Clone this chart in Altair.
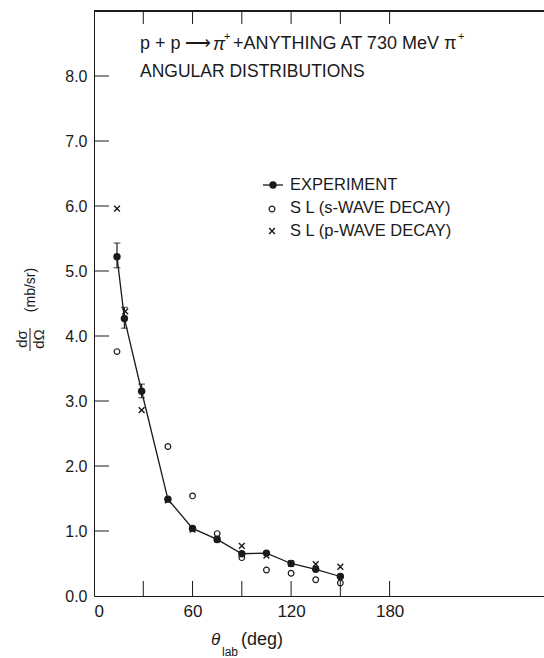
import altair as alt
import pandas as pd

# ---- data ----
exp_theta = [14, 18.5, 29, 45, 60, 75, 90, 105, 120, 135, 150]
exp_val = [5.22, 4.27, 3.15, 1.49, 1.04, 0.87, 0.65, 0.66, 0.50, 0.41, 0.30]
err_theta = [14, 18.5, 29]
err_lo = [5.05, 4.12, 3.05]
err_hi = [5.43, 4.44, 3.26]
s_theta = [14, 45, 60, 75, 90, 105, 120, 135, 150]
s_val = [3.76, 2.30, 1.54, 0.96, 0.59, 0.40, 0.35, 0.25, 0.20]
p_theta = [14, 19, 29, 45, 60, 75, 90, 105, 120, 135, 150]
p_val = [5.96, 4.38, 2.86, 1.47, 1.02, 0.87, 0.77, 0.62, 0.50, 0.49, 0.45]
x_tick_vals = [30, 60, 90, 120, 150, 180]
x_label_vals = [0, 60, 120, 180]
y_tick_vals = [1, 2, 3, 4, 5, 6, 7, 8]
y_label_vals = [0, 1, 2, 3, 4, 5, 6, 7, 8]
legend_labels = ["EXPERIMENT", "S L (s-WAVE DECAY)", "S L (p-WAVE DECAY)"]
title_parts = ["p + p", "⟶", "π", "+", "+ANYTHING AT 730 MeV π", "+"]
title_line2 = "ANGULAR DISTRIBUTIONS"

W, H = 450, 585
FONT = "Liberation Sans"
INK = "#1a1a1a"

exp_df = pd.DataFrame({"theta": exp_theta, "val": exp_val})
err_df = pd.DataFrame({"theta": err_theta, "lo": err_lo, "hi": err_hi})
s_df = pd.DataFrame({"theta": s_theta, "val": s_val})
p_df = pd.DataFrame({"theta": p_theta, "val": p_val})
xt_df = pd.DataFrame({"t": x_tick_vals})
yt_df = pd.DataFrame({"t": y_tick_vals})

xs = alt.Scale(domain=[0, 274], nice=False, zero=False)
ys = alt.Scale(domain=[0, 9], nice=False, zero=False)

X = alt.X("theta:Q", scale=xs,
          axis=alt.Axis(values=x_label_vals, format="d", title=None, ticks=False,
                        grid=False, labelPadding=7, domainColor=INK,
                        labelFont=FONT, labelFontSize=17, labelColor=INK))
Y = alt.Y("val:Q", scale=ys,
          axis=alt.Axis(values=y_label_vals, format=".1f", title=None, ticks=False,
                        grid=False, labelPadding=7, domainColor=INK,
                        labelFont=FONT, labelFontSize=16, labelColor=INK))

base_line = alt.Chart(exp_df).mark_line(color=INK, strokeWidth=1.3).encode(x=X, y=Y)

err_rule = alt.Chart(err_df).mark_rule(color=INK, strokeWidth=1.2).encode(
    x=alt.X("theta:Q", scale=xs), y=alt.Y("lo:Q", scale=ys), y2="hi:Q")
cap_hi = alt.Chart(err_df).mark_point(shape="stroke", size=45, color=INK, strokeWidth=1.2).encode(
    x=alt.X("theta:Q", scale=xs), y=alt.Y("hi:Q", scale=ys))
cap_lo = alt.Chart(err_df).mark_point(shape="stroke", size=45, color=INK, strokeWidth=1.2).encode(
    x=alt.X("theta:Q", scale=xs), y=alt.Y("lo:Q", scale=ys))

s_pts = alt.Chart(s_df).mark_point(shape="circle", size=32, filled=False, color=INK,
                                    strokeWidth=1.2, opacity=1).encode(
    x=alt.X("theta:Q", scale=xs), y=alt.Y("val:Q", scale=ys))
CROSS = "M-1,-1L1,1M-1,1L1,-1"
p_pts = alt.Chart(p_df).mark_point(shape=CROSS, size=34, filled=False, color=INK,
                                    strokeWidth=1.4, opacity=1).encode(
    x=alt.X("theta:Q", scale=xs), y=alt.Y("val:Q", scale=ys))
exp_pts = alt.Chart(exp_df).mark_point(shape="circle", size=55, filled=True, color=INK,
                                        opacity=1).encode(
    x=alt.X("theta:Q", scale=xs), y=alt.Y("val:Q", scale=ys))

# inward ticks
xt_bottom = alt.Chart(xt_df).mark_rule(color=INK, strokeWidth=1).encode(
    x=alt.X("t:Q", scale=xs), y=alt.value(H), y2=alt.value(H - 15))
xt_top = alt.Chart(xt_df).mark_rule(color=INK, strokeWidth=1).encode(
    x=alt.X("t:Q", scale=xs), y=alt.value(0), y2=alt.value(13))
yt_left = alt.Chart(yt_df).mark_rule(color=INK, strokeWidth=1).encode(
    y=alt.Y("t:Q", scale=ys), x=alt.value(0), x2=alt.value(15))
top_border = alt.Chart(xt_df).mark_rule(color=INK, strokeWidth=1).encode(
    y=alt.value(0), x=alt.value(0), x2=alt.value(W))

one = pd.DataFrame({"a": [0]})


def txt(s, x, y, size=15, align="left", angle=0, style="normal"):
    kw = dict(text=s, font=FONT, fontSize=size, align=align, baseline="middle",
              color=INK, fontStyle=style)
    if angle:
        kw["angle"] = angle
    return alt.Chart(one).mark_text(**kw).encode(x=alt.value(x), y=alt.value(y))


annots = [
    # title line 1 in pieces (for superscripts)
    txt(title_parts[0], 46, 33, size=18),
    txt(title_parts[1], 91, 33, size=18),
    txt(title_parts[2], 119, 34, size=18, style="italic"),
    txt(title_parts[3], 130, 26, size=11),
    txt(title_parts[4], 139, 33, size=18),
    txt(title_parts[5], 364, 26, size=11),
    txt(title_line2, 46, 61, size=17.5),
    # legend
    txt(legend_labels[0], 196, 174, size=16.5),
    txt(legend_labels[1], 196, 197, size=16.5),
    txt(legend_labels[2], 196, 220, size=16.5),
    # x title
    txt("θ", 121.5, 629, size=17, align="center", style="italic"),
    txt("(deg)", 168, 629, size=18, align="center"),
    txt("lab", 136, 641, size=12, align="center"),
    # y title (fraction)
    txt("dσ", -72, 328, size=15, align="center", angle=270),
    txt("dΩ", -55, 328, size=15, align="center", angle=270),
    txt("(mb/sr)", -63, 279, size=14, align="center", angle=270),
]

frac_bar = alt.Chart(one).mark_rule(color=INK, strokeWidth=1).encode(
    x=alt.value(-64), y=alt.value(317), y2=alt.value(340))

leg_line = alt.Chart(one).mark_rule(color=INK, strokeWidth=1.3).encode(
    x=alt.value(169), x2=alt.value(189), y=alt.value(174))
leg_exp = alt.Chart(one).mark_point(shape="circle", size=55, filled=True, color=INK,
                                     opacity=1).encode(x=alt.value(179), y=alt.value(174))
leg_s = alt.Chart(one).mark_point(shape="circle", size=32, filled=False, color=INK,
                                   strokeWidth=1.2, opacity=1).encode(x=alt.value(178), y=alt.value(198))
leg_p = alt.Chart(one).mark_point(shape=CROSS, size=34, filled=False, color=INK,
                                   strokeWidth=1.4, opacity=1).encode(x=alt.value(178), y=alt.value(220))

chart = alt.layer(
    base_line, err_rule, cap_hi, cap_lo, s_pts, p_pts, exp_pts,
    xt_bottom, xt_top, yt_left, top_border,
    frac_bar, leg_line, leg_exp, leg_s, leg_p,
    *annots,
).properties(
    width=W, height=H,
    autosize=alt.AutoSizeParams(type="none"),
    padding={"left": 94, "top": 11, "right": 0, "bottom": 62},
    background="white",
).configure_view(stroke=None)

chart.save("out.html", embed_options={"renderer": "svg", "actions": False})
